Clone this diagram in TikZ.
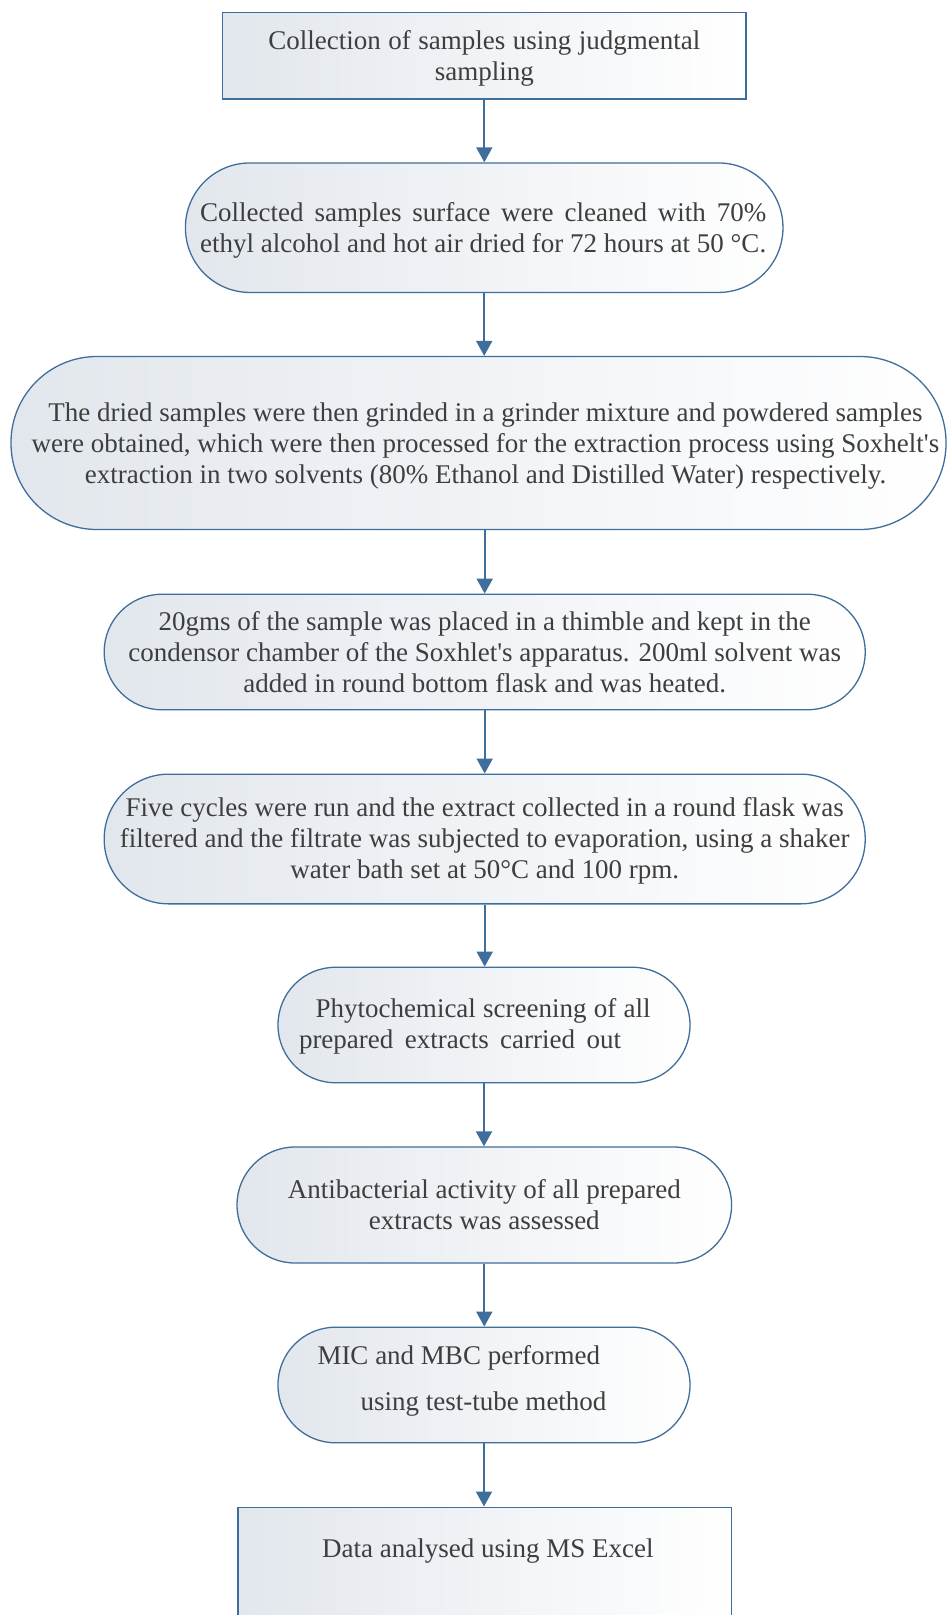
\documentclass[tikz,border=0pt]{standalone}
\usepackage{fontspec}
\setmainfont{Liberation Serif}
\usetikzlibrary{arrows.meta}
\definecolor{bordc}{HTML}{3F6E9C}
\definecolor{txtc}{HTML}{3E3E3E}
\definecolor{fillL}{HTML}{E2E7ED}
\newcommand{\boxfont}{\fontsize{27}{31}\selectfont}
\begin{document}
\begin{tikzpicture}[x=1pt,y=-1pt,
  box/.style={draw=bordc, line width=1.3pt, left color=fillL, right color=white,
    inner sep=0pt},
  txt/.style={text=txtc, inner sep=0pt, align=center, font=\boxfont},
  arr/.style={draw=bordc, line width=2pt, -{Triangle[width=16pt,length=15pt]}}]
\useasboundingbox (0,0) rectangle (948,1615);
\clip (0,0) rectangle (948,1615);
\fill[white] (0,0) rectangle (948,1615);

\node[box, minimum width=523.5pt, minimum height=86.6pt] (b1) at (484.3,55.7) {};
\node[txt] (t1) at ([yshift=-3pt]b1.center)
  {\makebox[432pt][s]{Collection of samples using judgmental}\\sampling};

\node[box, rounded corners=64.5pt, minimum width=597.5pt, minimum height=129.5pt] (b2) at (484.2,227.7) {};
\node[txt] (t2) at ([xshift=-1pt,yshift=-3pt]b2.center)
  {\makebox[566pt][s]{Collected samples surface were cleaned with 70\%}\\
   \makebox[566pt][s]{ethyl alcohol and hot air dried for 72 hours at 50 °C.}};

\node[box, rounded corners=86pt, minimum width=935pt, minimum height=173pt] (b3) at (478.5,443) {};
\node[txt] (t3) at ([xshift=7pt,yshift=-3pt]b3.center)
  {The dried samples were then grinded in a grinder mixture and powdered samples\\
   were obtained, which were then processed for the extraction process using Soxhelt\textquotesingle s\\
   extraction in two solvents (80\% Ethanol and Distilled Water) respectively.};

\node[box, rounded corners=57.5pt, minimum width=761pt, minimum height=115.5pt] (b4) at (484.7,652) {};
\node[txt] (t4) at (b4.center)
  {20gms of the sample was placed in a thimble and kept in the\\
   condensor chamber of the Soxhlet\textquotesingle s apparatus. 200ml solvent was\\
   added in round bottom flask and was heated.};

\node[box, rounded corners=64.5pt, minimum width=761pt, minimum height=129.7pt] (b5) at (484.7,839) {};
\node[txt] (t5) at ([yshift=-1.5pt]b5.center)
  {Five cycles were run and the extract collected in a round flask was\\
   filtered and the filtrate was subjected to evaporation, using a shaker\\
   water bath set at 50°C and 100 rpm.};

\node[box, rounded corners=57.5pt, minimum width=412pt, minimum height=115.5pt] (b6) at (484,1025) {};
\node[txt] (t6) at ([yshift=-1pt]b6.center)
  {\makebox[370pt][l]{\hspace*{16.5pt}\makebox[335pt][s]{Phytochemical screening of all}}\\
   \makebox[370pt][l]{\makebox[322pt][s]{prepared extracts carried out}}};

\node[box, rounded corners=58pt, minimum width=494.6pt, minimum height=116pt] (b7) at (484.3,1205) {};
\node[txt] (t7) at (b7.center)
  {Antibacterial activity of all prepared\\extracts was assessed};

\node[box, rounded corners=57.5pt, minimum width=412pt, minimum height=115.6pt] (b8) at (484,1385) {};
\node[txt] (t8) at ([yshift=4pt]b8.center)
  {\makebox[333pt][l]{MIC and MBC performed}\\[15pt]
   \makebox[333pt][l]{\hspace*{43pt}using test-tube method}};

\node[box, anchor=north, minimum width=493.6pt, minimum height=160pt] (b9) at (484.8,1506.5) {};
\node[txt] (t9) at ([xshift=3pt,yshift=-44.5pt]b9.north)
  {Data analysed using MS Excel};

\draw[arr] (b1.south) -- (b1.south |- b2.north);
\draw[arr] (b2.south) -- (b2.south |- b3.north);
\draw[arr] (b3.south -| b4.north) -- (b4.north);
\draw[arr] (b4.south) -- (b4.south |- b5.north);
\draw[arr] (b5.south) -- (b5.south |- b6.north);
\draw[arr] (b6.south) -- (b6.south |- b7.north);
\draw[arr] (b7.south) -- (b7.south |- b8.north);
\draw[arr] (b8.south) -- (b8.south |- b9.north);
\end{tikzpicture}
\end{document}
